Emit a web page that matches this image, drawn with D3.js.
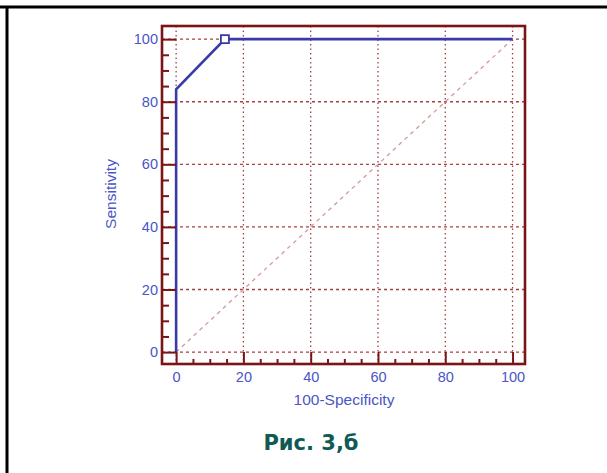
<!DOCTYPE html>
<html>
<head>
<meta charset="utf-8">
<script src="https://cdn.jsdelivr.net/npm/d3@7"></script>
<style>
  body { margin: 0; background: #fff; }
  svg { display: block; }
</style>
</head>
<body>
<svg></svg>
<script>
// ROC curve points (100-Specificity, Sensitivity)
const rocX = [0, 0, 14.5, 100]
const rocY = [0, 84, 100, 100]

// the marked cut-off point
const cutX = [14.5]
const cutY = [100]

const majorTicks = [0, 20, 40, 60, 80, 100]
const minorTicks = [5, 10, 15, 25, 30, 35, 45, 50, 55, 65, 70, 75, 85, 90, 95]

const xTitle = "100-Specificity"
const yTitle = "Sensitivity"
const caption = "Рис. 3,б"

let width = 607
let height = 473

let plotLeft = 162
let plotRight = 525
let plotTop = 26
let plotBottom = 364

let frameColor = "#7b1515"
let gridColor = "#a84040"
let diagColor = "#d49a9a"
let curveColor = "#3b3ba8"
let textColor = "#4a55c8"

let svg = d3.select("svg")
    .attr("width", width)
    .attr("height", height)

// page border lines
svg.append("line")
    .attr("x1", 0).attr("x2", width)
    .attr("y1", 7).attr("y2", 7)
    .attr("stroke", "#000").attr("stroke-width", 3)
svg.append("line")
    .attr("x1", 7).attr("x2", 7)
    .attr("y1", 7).attr("y2", height)
    .attr("stroke", "#000").attr("stroke-width", 3)

let xScale = d3.scaleLinear()
    .domain([-4.2, 103.7])
    .range([plotLeft, plotRight])

let yScale = d3.scaleLinear()
    .domain([-3.8, 104.2])
    .range([plotBottom, plotTop])

// grid
svg.append("g")
    .selectAll("line")
    .data(majorTicks)
    .enter()
    .append("line")
    .attr("x1", d => xScale(d)).attr("x2", d => xScale(d))
    .attr("y1", plotTop).attr("y2", plotBottom)
    .attr("stroke", gridColor)
    .attr("stroke-width", 1.3)
    .attr("stroke-dasharray", "1.5,3")

svg.append("g")
    .selectAll("line")
    .data(majorTicks)
    .enter()
    .append("line")
    .attr("x1", plotLeft).attr("x2", plotRight)
    .attr("y1", d => yScale(d)).attr("y2", d => yScale(d))
    .attr("stroke", gridColor)
    .attr("stroke-width", 1.3)
    .attr("stroke-dasharray", "3,3")

// diagonal reference line
svg.append("line")
    .attr("x1", xScale(0)).attr("y1", yScale(0))
    .attr("x2", xScale(100)).attr("y2", yScale(100))
    .attr("stroke", diagColor)
    .attr("stroke-width", 1.3)
    .attr("stroke-dasharray", "4,4")

// ROC curve
let line = d3.line()
    .x((d, i) => xScale(rocX[i]))
    .y((d, i) => yScale(rocY[i]))

svg.append("path")
    .datum(rocX)
    .attr("d", line)
    .attr("fill", "none")
    .attr("stroke", curveColor)
    .attr("stroke-width", 2.6)

svg.selectAll(".cut")
    .data(cutX)
    .enter()
    .append("rect")
    .attr("class", "cut")
    .attr("x", (d, i) => xScale(d) - 4)
    .attr("y", (d, i) => yScale(cutY[i]) - 4)
    .attr("width", 8)
    .attr("height", 8)
    .attr("fill", "#fff")
    .attr("stroke", curveColor)
    .attr("stroke-width", 1.8)

// axes
const styleAxis = g => {
    g.select(".domain").remove()
    g.selectAll(".tick line").attr("stroke", frameColor).attr("stroke-width", 2)
    g.selectAll(".tick text")
        .attr("fill", textColor)
        .style("font-family", "'Liberation Sans', Arial, sans-serif")
        .style("font-size", "14.5px")
}

svg.append("g")
    .attr("transform", "translate(0," + plotBottom + ")")
    .call(d3.axisBottom(xScale).tickValues(minorTicks).tickSize(-5).tickFormat(""))
    .call(styleAxis)

svg.append("g")
    .attr("transform", "translate(0," + plotBottom + ")")
    .call(d3.axisBottom(xScale).tickValues(majorTicks).tickSize(-12).tickPadding(8))
    .call(styleAxis)

svg.append("g")
    .attr("transform", "translate(" + plotLeft + ",0)")
    .call(d3.axisLeft(yScale).tickValues(minorTicks).tickSize(-7).tickFormat(""))
    .call(styleAxis)

svg.append("g")
    .attr("transform", "translate(" + plotLeft + ",0)")
    .call(d3.axisLeft(yScale).tickValues(majorTicks).tickSize(-14).tickPadding(4))
    .call(styleAxis)

// frame
svg.append("rect")
    .attr("x", plotLeft).attr("y", plotTop)
    .attr("width", plotRight - plotLeft)
    .attr("height", plotBottom - plotTop)
    .attr("fill", "none")
    .attr("stroke", frameColor)
    .attr("stroke-width", 2.6)

// titles
svg.append("text")
    .attr("x", 344)
    .attr("y", 405)
    .attr("text-anchor", "middle")
    .attr("fill", textColor)
    .style("font-family", "'Liberation Sans', Arial, sans-serif")
    .style("font-size", "15.5px")
    .text(xTitle)

svg.append("text")
    .attr("transform", "translate(116,194) rotate(-90)")
    .attr("text-anchor", "middle")
    .attr("fill", textColor)
    .style("font-family", "'Liberation Sans', Arial, sans-serif")
    .style("font-size", "15.5px")
    .text(yTitle)

svg.append("text")
    .attr("x", 311)
    .attr("y", 450)
    .attr("text-anchor", "middle")
    .attr("fill", "#0f5a55")
    .style("font-family", "'DejaVu Sans', sans-serif")
    .style("font-weight", "bold")
    .style("font-size", "21px")
    .text(caption)
</script>
</body>
</html>
